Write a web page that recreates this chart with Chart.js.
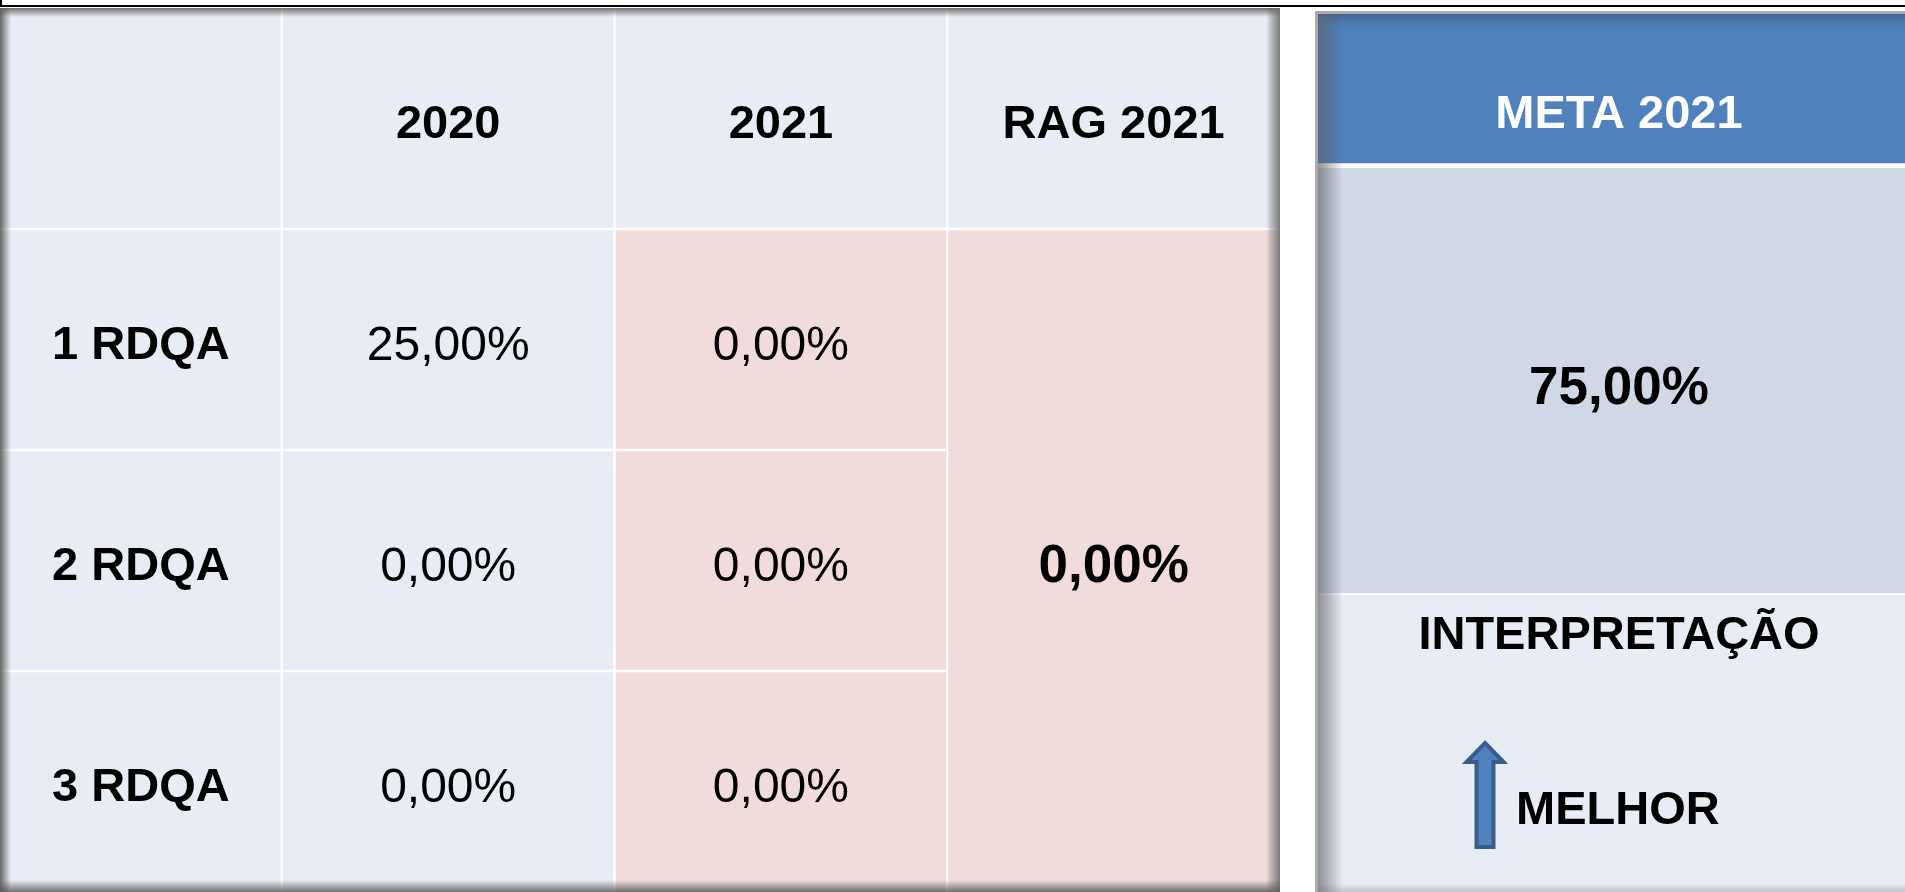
<!DOCTYPE html>
<html lang="pt">
<head>
    <meta charset="UTF-8">
    <title>RDQA 2021</title>
    <style>
        html, body { margin: 0; padding: 0; background: #fff; overflow: hidden; }
        body { width: 1905px; height: 892px; position: relative; }
        .frame-top { position: absolute; left: 0; top: 5px; width: 1905px; height: 2px; background: #000; }
        .frame-left { position: absolute; left: 0; top: 0; width: 2px; height: 7px; background: #000; }
        #tableChart { position: absolute; left: 0; top: 8px; }
        #metaChart { position: absolute; left: 1315px; top: 11px; }
    </style>
</head>
<body>

    <div class="frame-top"></div>
    <div class="frame-left"></div>
    <canvas id="tableChart" width="1280" height="884"></canvas>
    <canvas id="metaChart" width="608" height="881"></canvas>

    <script src="https://cdn.jsdelivr.net/npm/chart.js@4.4.1/dist/chart.umd.min.js"></script>
    <script>
        // table data
        var rowLabels = ['1 RDQA', '2 RDQA', '3 RDQA'];
        var columnLabels = ['2020', '2021', 'RAG 2021'];
        var values2020 = [25, 0, 0];
        var values2021 = [0, 0, 0];
        var rag2021 = 0;

        // side panel
        var metaTitle = 'META 2021';
        var meta2021 = 75;
        var interpretationTitle = 'INTERPRETAÇÃO';
        var interpretation = 'MELHOR';

        var FONT = '"Liberation Sans", Arial, sans-serif';
        var cellBlue = '#E8ECF4';
        var cellPink = '#F2DCDB';

        function pct(v) {
            return v.toFixed(2).replace('.', ',') + '%';
        }

        // draws text so that the cap height is centred on y
        function putText(ctx, text, x, y, size, bold, color, align) {
            ctx.save();
            ctx.font = (bold ? 'bold ' : '') + size + 'px ' + FONT;
            ctx.fillStyle = color || '#000';
            ctx.textAlign = align || 'center';
            ctx.textBaseline = 'alphabetic';
            ctx.fillText(text, x, y + size * 0.716 / 2);
            ctx.restore();
        }

        function edgeShade(ctx, x0, y0, x1, y1, rect, dark) {
            var g = ctx.createLinearGradient(x0, y0, x1, y1);
            g.addColorStop(0, dark);
            g.addColorStop(1, 'rgba(90,90,90,0)');
            ctx.fillStyle = g;
            ctx.fillRect(rect[0], rect[1], rect[2], rect[3]);
        }

        // ---------- main table ----------
        var tableRows = [''].concat(rowLabels);
        var labelColStart = -0.847;
        var colRanges = [[labelColStart, 0], [0, 1], [1, 2], [2, 3]];

        function spans(r) {
            return tableRows.map(function () { return [r[0], r[1]]; });
        }

        function cellBorder(ctx) {
            var col = ctx.datasetIndex, row = ctx.dataIndex, last = tableRows.length - 1;
            var w = 1.5;
            var b = {
                left: col === 0 ? 0 : w,
                right: col === 3 ? 0 : w,
                top: row === 0 ? 0 : w,
                bottom: row === last ? 0 : w
            };
            // RAG 2021 is one merged cell over the three rows
            if (col === 3 && row > 0) {
                if (row > 1) b.top = 0;
                if (row < last) b.bottom = 0;
            }
            return b;
        }

        function cellColor(ctx) {
            if (ctx.dataIndex === 0 || ctx.datasetIndex < 2) return cellBlue;
            return cellPink;
        }

        var tableText = {
            id: 'tableText',
            afterDatasetsDraw: function (chart) {
                var ctx = chart.ctx, x = chart.scales.x, y = chart.scales.y;
                function cx(c) { return (x.getPixelForValue(colRanges[c][0]) + x.getPixelForValue(colRanges[c][1])) / 2; }
                var off = 3;

                columnLabels.forEach(function (lab, i) {
                    putText(ctx, lab, cx(i + 1), y.getPixelForValue(0) + off, 47, true);
                });
                rowLabels.forEach(function (lab, i) {
                    var py = y.getPixelForValue(i + 1) + off;
                    putText(ctx, lab, cx(0), py, 47, true);
                    putText(ctx, pct(values2020[i]), cx(1), py, 48, false);
                    putText(ctx, pct(values2021[i]), cx(2), py, 48, false);
                });
                var ragY = (y.getPixelForValue(1) + y.getPixelForValue(rowLabels.length)) / 2 + off;
                putText(ctx, pct(rag2021), cx(3), ragY, 53, true);
            },
            afterDraw: function (chart) {
                var ctx = chart.ctx, a = chart.chartArea;
                var w = a.right - a.left, h = a.bottom - a.top;
                ctx.save();
                edgeShade(ctx, a.left, 0, a.left + 11, 0, [a.left, a.top, 11, h], 'rgba(90,90,90,0.9)');
                edgeShade(ctx, 0, a.top, 0, a.top + 9, [a.left, a.top, w, 9], 'rgba(90,90,90,0.85)');
                edgeShade(ctx, a.right, 0, a.right - 14, 0, [a.right - 14, a.top, 14, h], 'rgba(110,110,110,0.9)');
                edgeShade(ctx, 0, a.bottom, 0, a.bottom - 12, [a.left, a.bottom - 12, w, 12], 'rgba(90,90,90,0.85)');
                ctx.restore();
            }
        };

        new Chart(document.getElementById('tableChart'), {
            type: 'bar',
            data: {
                labels: tableRows,
                datasets: colRanges.map(function (r) {
                    return {
                        data: spans(r),
                        backgroundColor: cellColor,
                        borderColor: '#fff',
                        borderWidth: cellBorder,
                        borderSkipped: false,
                        grouped: false,
                        barPercentage: 1,
                        categoryPercentage: 1
                    };
                })
            },
            options: {
                indexAxis: 'y',
                responsive: false,
                animation: false,
                layout: { padding: 0 },
                scales: {
                    x: { type: 'linear', min: labelColStart, max: 3, display: false },
                    y: { type: 'category', display: false }
                },
                plugins: { legend: { display: false }, tooltip: { enabled: false } }
            },
            plugins: [tableText]
        });

        // ---------- META panel ----------
        // vertical layout in header-heights: [start, end] of each block, and text anchors
        var panelBlocks = [[0, 1.06], [1.06, 3.945], [3.945, 5.953]];
        var panelColors = ['#4F81BD', '#D0D8E8', cellBlue];
        var panelBorders = [5, 2, 0];
        var panelText = { title: 0.68, value: 2.527, interp: 4.196, melhor: 5.378, arrowTop: 4.926, arrowBottom: 5.662 };

        var metaText = {
            id: 'metaText',
            afterDatasetsDraw: function (chart) {
                var ctx = chart.ctx, x = chart.scales.x, y = chart.scales.y, a = chart.chartArea;
                var cx = x.getPixelForValue(0);
                var w = a.right - a.left, h = a.bottom - a.top;

                // inner shading, then the thin grey frame
                ctx.save();
                edgeShade(ctx, 0, a.top, 0, a.top + 16, [a.left, a.top, w, 16], 'rgba(40,60,100,0.55)');
                edgeShade(ctx, a.left, 0, a.left + 28, 0, [a.left, a.top, 28, h], 'rgba(100,100,110,0.75)');
                edgeShade(ctx, 0, a.bottom, 0, a.bottom - 8, [a.left, a.bottom - 8, w, 8], 'rgba(110,110,120,0.3)');
                ctx.fillStyle = '#ababab';
                ctx.fillRect(a.left, a.top, w, 3);
                ctx.fillRect(a.left, a.top, 3, h);
                ctx.restore();

                putText(ctx, metaTitle, cx, y.getPixelForValue(panelText.title), 47, true, '#fff');
                putText(ctx, pct(meta2021), cx, y.getPixelForValue(panelText.value), 53, true);
                putText(ctx, interpretationTitle, cx, y.getPixelForValue(panelText.interp), 47, true);
                putText(ctx, interpretation, cx - 103, y.getPixelForValue(panelText.melhor), 47, true, '#000', 'left');

                // up arrow
                var ax = cx - 134;
                var top = y.getPixelForValue(panelText.arrowTop) + 3, bot = y.getPixelForValue(panelText.arrowBottom) - 2;
                var headH = 19, headW = 18.5, shaftW = 8.5;
                ctx.save();
                ctx.beginPath();
                ctx.moveTo(ax, top);
                ctx.lineTo(ax + headW, top + headH);
                ctx.lineTo(ax + shaftW, top + headH);
                ctx.lineTo(ax + shaftW, bot);
                ctx.lineTo(ax - shaftW, bot);
                ctx.lineTo(ax - shaftW, top + headH);
                ctx.lineTo(ax - headW, top + headH);
                ctx.closePath();
                ctx.fillStyle = '#4F81BD';
                ctx.fill();
                ctx.lineWidth = 4;
                ctx.lineJoin = 'miter';
                ctx.strokeStyle = '#385D8A';
                ctx.stroke();
                ctx.restore();
            }
        };

        new Chart(document.getElementById('metaChart'), {
            type: 'bar',
            data: {
                labels: [metaTitle],
                datasets: panelBlocks.map(function (b, i) {
                    return {
                        data: [[b[0], b[1]]],
                        backgroundColor: panelColors[i],
                        borderColor: '#fff',
                        borderWidth: { top: 0, left: 0, right: 0, bottom: panelBorders[i] },
                        borderSkipped: false,
                        grouped: false,
                        barPercentage: 1,
                        categoryPercentage: 1
                    };
                })
            },
            options: {
                responsive: false,
                animation: false,
                layout: { padding: 0 },
                scales: {
                    x: { type: 'category', display: false },
                    y: { type: 'linear', min: 0, max: 5.953, reverse: true, display: false }
                },
                plugins: { legend: { display: false }, tooltip: { enabled: false } }
            },
            plugins: [metaText]
        });
    </script>

</body>
</html>
